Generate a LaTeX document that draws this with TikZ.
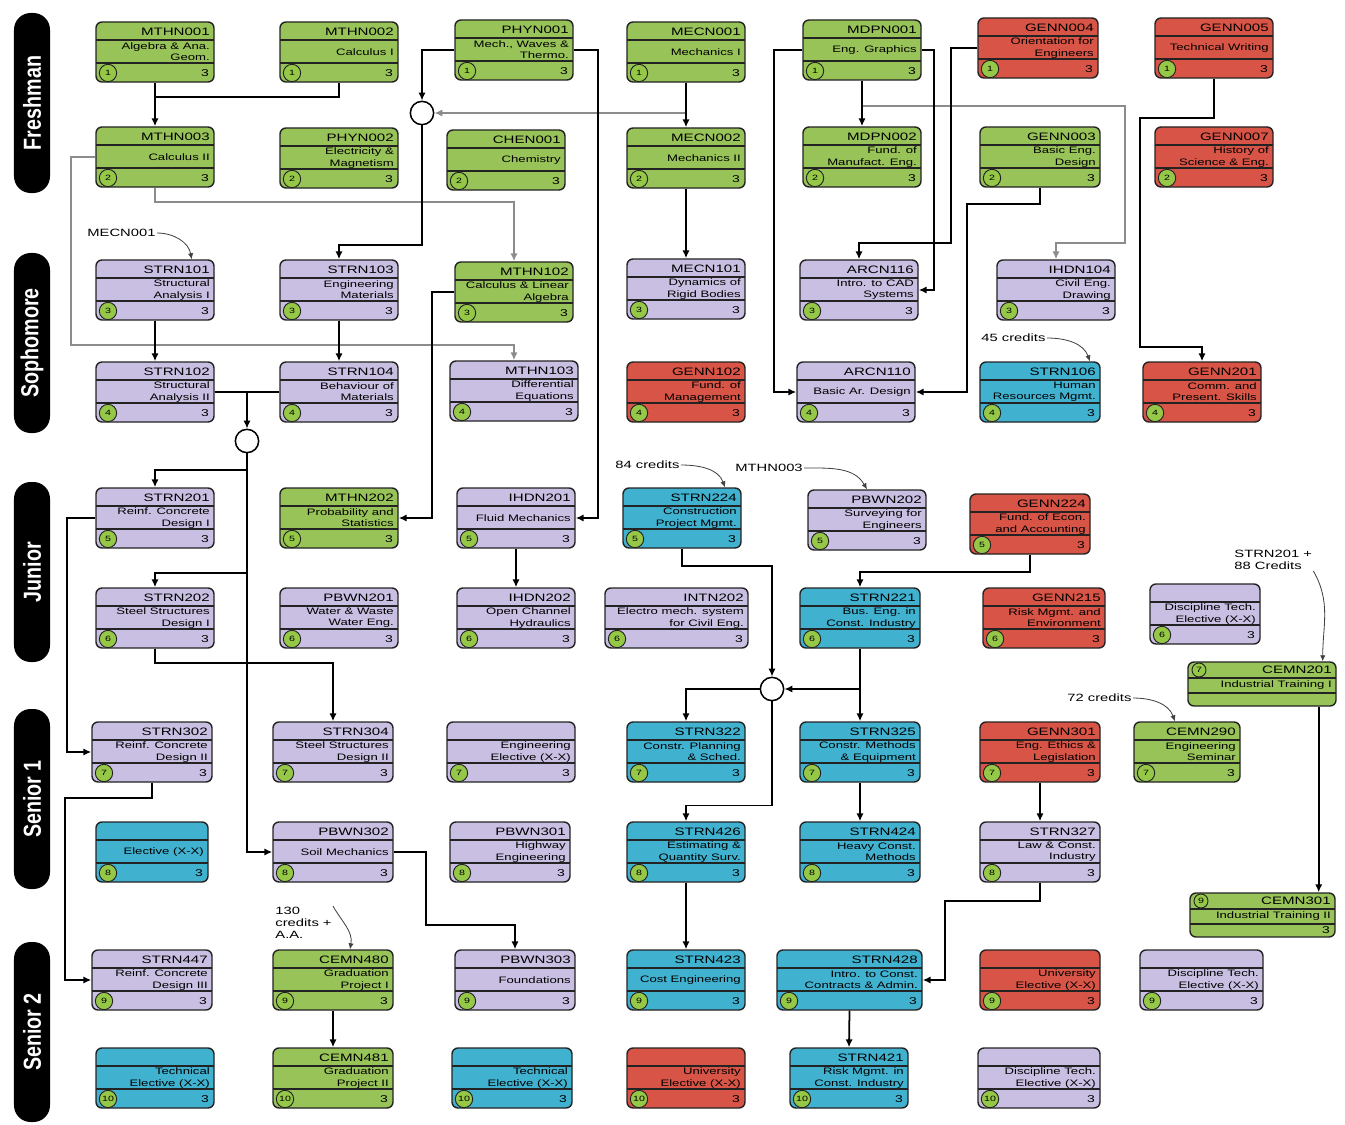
\documentclass[tikz,border=0pt]{standalone}
\usepackage{fontspec}
\usepackage{xcolor}
\usepackage{tikz}
\usetikzlibrary{arrows.meta}

\newfontfamily\boxfont{Liberation Sans}[FakeStretch=1.4]
\newfontfamily\yearfont{Liberation Sans}[FakeStretch=0.8]

\definecolor{cgreen}{RGB}{152,195,88}
\definecolor{cred}{RGB}{216,84,70}
\definecolor{cpurple}{RGB}{201,191,226}
\definecolor{ccyan}{RGB}{64,177,207}
\definecolor{csem}{RGB}{150,200,72}
\definecolor{cline}{RGB}{35,35,35}
\definecolor{cgray}{RGB}{140,140,140}

% name, left, top, width, fill, code, title, semester
\newcommand{\course}[8]{%
  \node[course, fill=#5, minimum width=#4*0.03cm] (#1) at (#2+#4/2,#3+30) {};
  \draw[divider] (#2,#3+18) -- ++(#4,0) (#2,#3+41) -- ++(#4,0);
  \node[codetxt, anchor=east] (#1c) at (#2+#4-4,#3+9.5) {#6};
  \node[titletxt, anchor=east] (#1t) at (#2+#4-4,#3+30) {#7};
  \node[semdot] (#1s) at (#2+12,#3+51) {#8};
  \node[credtxt, anchor=east] (#1n) at (#2+#4-5,#3+51) {3};
}
% name, left, top, width, code, title, credits, semester
\newcommand{\training}[8]{%
  \node[course, fill=cgreen, minimum width=#4*0.03cm, minimum height=1.32cm] (#1) at (#2+#4/2,#3+22) {};
  \draw[divider] (#2,#3+16) -- ++(#4,0) (#2,#3+31) -- ++(#4,0);
  \node[semdot, minimum size=0.42cm] (#1s) at (#2+11,#3+8) {#8};
  \node[codetxt, anchor=east] (#1c) at (#2+#4-4,#3+8) {#5};
  \node[titletxt, anchor=east] (#1t) at (#2+#4-4,#3+23.5) {#6};
  \node[credtxt, anchor=east] (#1n) at (#2+#4-5,#3+37.5) {#7};
}

\begin{document}
\begin{tikzpicture}[
  x=0.03cm, y=-0.03cm,
  course/.style={draw=cline, line width=1.2pt, rounded corners=0.18cm, minimum height=1.8cm, inner sep=0pt},
  divider/.style={draw=cline, line width=1.2pt},
  codetxt/.style={inner sep=0pt, font=\boxfont\fontsize{9.2}{10}\selectfont},
  titletxt/.style={inner sep=0pt, align=right, font=\boxfont\fontsize{8}{9.6}\selectfont},
  credtxt/.style={inner sep=0pt, font=\boxfont\fontsize{8.5}{9}\selectfont},
  semdot/.style={circle, draw=cline, fill=csem, line width=0.8pt, minimum size=0.52cm, inner sep=0pt, font=\boxfont\fontsize{6.5}{7}\selectfont},
  junction/.style={circle, draw=black, fill=white, line width=1.3pt, minimum size=0.7cm, inner sep=0pt},
  yearbar/.style={rotate=90, fill=black, rounded corners=0.5cm, minimum width=5.4cm, minimum height=1.08cm, inner sep=0pt, text=white, font=\yearfont\bfseries\fontsize{21}{21}\selectfont},
  notetxt/.style={inner sep=1pt, align=left, font=\boxfont\fontsize{9}{10}\selectfont},
  plainline/.style={draw=black, line width=1.5pt},
  arrow/.style={-{Latex[length=2.4mm, width=2.2mm]}, line width=1.5pt},
  garrow/.style={-{Latex[length=2.4mm, width=2.2mm]}, draw=cgray, line width=1.5pt},
  notearrow/.style={-{Latex[length=1.8mm, width=1.6mm]}, draw=black!75, line width=0.7pt}
]
\useasboundingbox (0,0) rectangle (1345,1125);

\node[yearbar] (fresh) at (32,103) {Freshman};
\node[yearbar] (soph) at (32,343) {Sophomore};
\node[yearbar] (jun) at (32,572) {Junior};
\node[yearbar] (sen1) at (32,799) {Senior 1};
\node[yearbar] (sen2) at (32,1032) {Senior 2};

\course{mthn001}{96}{22}{118}{cgreen}{MTHN001}{Algebra \& Ana.\\Geom.}{1}
\course{mthn002}{280}{22}{118}{cgreen}{MTHN002}{Calculus I}{1}
\course{phyn001}{455}{20}{118}{cgreen}{PHYN001}{Mech., Waves \&\\Thermo.}{1}
\course{mecn001}{627}{22}{118}{cgreen}{MECN001}{Mechanics I}{1}
\course{mdpn001}{803}{20}{118}{cgreen}{MDPN001}{Eng. Graphics}{1}
\course{genn004}{978}{18}{120}{cred}{GENN004}{Orientation for\\Engineers}{1}
\course{genn005}{1155}{18}{118}{cred}{GENN005}{Technical Writing}{1}

\course{mthn003}{96}{127}{118}{cgreen}{MTHN003}{Calculus II}{2}
\course{phyn002}{280}{128}{118}{cgreen}{PHYN002}{Electricity \&\\Magnetism}{2}
\course{chen001}{447}{130}{118}{cgreen}{CHEN001}{Chemistry}{2}
\course{mecn002}{627}{128}{118}{cgreen}{MECN002}{Mechanics II}{2}
\course{mdpn002}{803}{127}{118}{cgreen}{MDPN002}{Fund. of\\Manufact. Eng.}{2}
\course{genn003}{980}{127}{120}{cgreen}{GENN003}{Basic Eng.\\Design}{2}
\course{genn007}{1155}{127}{118}{cred}{GENN007}{History of\\Science \& Eng.}{2}

\course{strn101}{96}{260}{118}{cpurple}{STRN101}{Structural\\Analysis I}{3}
\course{strn103}{280}{260}{118}{cpurple}{STRN103}{Engineering\\Materials}{3}
\course{mthn102}{455}{262}{118}{cgreen}{MTHN102}{Calculus \& Linear\\Algebra}{3}
\course{mecn101}{627}{259}{118}{cpurple}{MECN101}{Dynamics of\\Rigid Bodies}{3}
\course{arcn116}{800}{260}{118}{cpurple}{ARCN116}{Intro. to CAD\\Systems}{3}
\course{ihdn104}{997}{260}{118}{cpurple}{IHDN104}{Civil Eng.\\Drawing}{3}

\course{strn102}{96}{362}{118}{cpurple}{STRN102}{Structural\\Analysis II}{4}
\course{strn104}{280}{362}{118}{cpurple}{STRN104}{Behaviour of\\Materials}{4}
\course{mthn103}{450}{361}{128}{cpurple}{MTHN103}{Differential\\Equations}{4}
\course{genn102}{627}{362}{118}{cred}{GENN102}{Fund. of\\Management}{4}
\course{arcn110}{797}{362}{118}{cpurple}{ARCN110}{Basic Ar. Design}{4}
\course{strn106}{980}{362}{120}{ccyan}{STRN106}{Human\\Resources Mgmt.}{4}
\course{genn201}{1143}{362}{118}{cred}{GENN201}{Comm. and\\Present. Skills}{4}

\course{strn201}{96}{488}{118}{cpurple}{STRN201}{Reinf. Concrete\\Design I}{5}
\course{mthn202}{280}{488}{118}{cgreen}{MTHN202}{Probability and\\Statistics}{5}
\course{ihdn201}{457}{488}{118}{cpurple}{IHDN201}{Fluid Mechanics}{5}
\course{strn224}{623}{488}{118}{ccyan}{STRN224}{Construction\\Project Mgmt.}{5}
\course{pbwn202}{808}{490}{118}{cpurple}{PBWN202}{Surveying for\\Engineers}{5}
\course{genn224}{970}{494}{120}{cred}{GENN224}{Fund. of Econ.\\and Accounting}{5}

\course{strn202}{96}{588}{118}{cpurple}{STRN202}{Steel Structures\\Design I}{6}
\course{pbwn201}{280}{588}{118}{cpurple}{PBWN201}{Water \& Waste\\Water Eng.}{6}
\course{ihdn202}{457}{588}{118}{cpurple}{IHDN202}{Open Channel\\Hydraulics}{6}
\course{intn202}{605}{588}{143}{cpurple}{INTN202}{Electro mech. system\\for Civil Eng.}{6}
\course{strn221}{800}{588}{120}{ccyan}{STRN221}{Bus. Eng. in\\Const. Industry}{6}
\course{genn215}{983}{588}{122}{cred}{GENN215}{Risk Mgmt. and\\Environment}{6}
\course{dte1}{1150}{584}{110}{cpurple}{}{Discipline Tech.\\Elective (X-X)}{6}

\training{cemn201}{1188}{662}{148}{CEMN201}{Industrial Training I}{}{7}

\course{strn302}{92}{722}{120}{cpurple}{STRN302}{Reinf. Concrete\\Design II}{7}
\course{strn304}{273}{722}{120}{cpurple}{STRN304}{Steel Structures\\Design II}{7}
\course{engel}{447}{722}{128}{cpurple}{}{Engineering\\Elective (X-X)}{7}
\course{strn322}{627}{722}{118}{ccyan}{STRN322}{Constr. Planning\\\& Sched.}{7}
\course{strn325}{800}{722}{120}{ccyan}{STRN325}{Constr. Methods\\\& Equipment}{7}
\course{genn301}{980}{722}{120}{cred}{GENN301}{Eng. Ethics \&\\Legislation}{7}
\course{cemn290}{1134}{722}{106}{cgreen}{CEMN290}{Engineering\\Seminar}{7}

\course{elec1}{96}{822}{112}{ccyan}{}{Elective (X-X)}{8}
\course{pbwn302}{273}{822}{120}{cpurple}{PBWN302}{Soil Mechanics}{8}
\course{pbwn301}{450}{822}{120}{cpurple}{PBWN301}{Highway\\Engineering}{8}
\course{strn426}{627}{822}{118}{ccyan}{STRN426}{Estimating \&\\Quantity Surv.}{8}
\course{strn424}{800}{822}{120}{ccyan}{STRN424}{Heavy Const.\\Methods}{8}
\course{strn327}{980}{822}{120}{cpurple}{STRN327}{Law \& Const.\\Industry}{8}

\training{cemn301}{1190}{893}{145}{CEMN301}{Industrial Training II}{3}{9}

\course{strn447}{92}{950}{120}{cpurple}{STRN447}{Reinf. Concrete\\Design III}{9}
\course{cemn480}{273}{950}{120}{cgreen}{CEMN480}{Graduation\\Project I}{9}
\course{pbwn303}{455}{950}{120}{cpurple}{PBWN303}{Foundations}{9}
\course{strn423}{627}{950}{118}{ccyan}{STRN423}{Cost Engineering}{9}
\course{strn428}{777}{950}{145}{ccyan}{STRN428}{Intro. to Const.\\Contracts \& Admin.}{9}
\course{unel1}{980}{950}{120}{cred}{}{University\\Elective (X-X)}{9}
\course{dte2}{1140}{950}{123}{cpurple}{}{Discipline Tech.\\Elective (X-X)}{9}

\course{tech1}{96}{1048}{118}{ccyan}{}{Technical\\Elective (X-X)}{10}
\course{cemn481}{273}{1048}{120}{cgreen}{CEMN481}{Graduation\\Project II}{10}
\course{tech2}{452}{1048}{120}{ccyan}{}{Technical\\Elective (X-X)}{10}
\course{unel2}{627}{1048}{118}{cred}{}{University\\Elective (X-X)}{10}
\course{strn421}{790}{1048}{118}{ccyan}{STRN421}{Risk Mgmt. in\\Const. Industry}{10}
\course{dte3}{978}{1048}{122}{cpurple}{}{Discipline Tech.\\Elective (X-X)}{10}

\node[junction] (and1) at (422,113) {};
\node[junction] (and2) at (247,441) {};
\node[junction] (and3) at (772,689) {};

\coordinate (j1) at (155,97);
\coordinate (j2) at (380,245);
\coordinate (j3) at (300,202);
\coordinate (j4) at (300,345);
\coordinate (j5) at (200,470);
\coordinate (j6) at (200,573);
\coordinate (j7) at (250,663);
\coordinate (j8) at (65,900);
\coordinate (j9) at (1125,106);
\coordinate (j10) at (1056,243);
\coordinate (j11) at (859,243);
\coordinate (j12) at (967,300);
\coordinate (j13) at (1140,200);
\coordinate (j14) at (1202,347);

\draw[garrow] (mecn001.south) |- (and1.east);
\draw[garrow] (mthn003.south) |- (j3) -| (mthn102.north);
\draw[garrow] (mthn003.west) -- ++(-24,0) |- (j4) -| (mthn103.north);
\draw[garrow] (mdpn001.south) |- (j9) |- (j10) -- (ihdn104.north);

\draw[arrow] (mthn001.south) -- (mthn003.north);
\draw[plainline] (mthn002.south) |- (j1);
\draw[arrow] (mecn001.south) -- (mecn002.north);
\draw[arrow] (phyn001.west) -| (and1.north);
\draw[arrow] (and1.south) |- (j2) -| (strn103.north);
\draw[arrow] (strn101.south) -- (strn102.north);
\draw[arrow] (strn103.south) -- (strn104.north);
\draw[plainline] (strn102.east) -- (strn104.west);
\draw[arrow] (strn102.east -| and2) -- (and2.north);
\draw[arrow] (and2.south) |- (j5) -| (strn201.north);
\draw[arrow] (and2.south) |- (j6) -| (strn202.north);
\draw[arrow] (and2.south) |- (pbwn302.west);
\draw[arrow] (strn202.south) |- (j7) -| (strn304.north);
\draw[arrow] (strn201.west) -- ++(-28,0) |- (strn302.west);
\draw[arrow] (strn302.south) -- ++(0,15) -| (j8) |- (strn447.west);
\draw[arrow] (mthn102.west) -- ++(-22,0) |- (mthn202.east);
\draw[arrow] (phyn001.east) -- ++(24,0) |- (ihdn201.east);
\draw[arrow] (ihdn201.south) -- (ihdn202.north);
\draw[arrow] (mecn002.south) -- (mecn101.north);
\draw[arrow] (mdpn001.south) -- (mdpn002.north);
\draw[arrow] (mdpn001.west) -- ++(-28,0) |- (arcn110.west);
\draw[arrow] (mdpn001.east) -- ++(12,0) |- (arcn116.east);
\draw[arrow] (genn004.west) -- ++(-26,0) |- (j11) -- (arcn116.north);
\draw[arrow] (genn003.south) -- ++(0,16) -| (j12) |- (arcn110.east);
\draw[arrow] (genn005.south) -- ++(0,39) -| (j13) |- (j14) -- (genn201.north);
\draw[arrow] (strn224.south) -- ++(0,17) -| (and3.north);
\draw[arrow] (genn224.south) -- ++(0,17) -| (strn221.north);
\draw[arrow] (strn221.south) -- (strn325.north);
\draw[arrow] (strn221.south |- and3) -- (and3.east);
\draw[arrow] (and3.west) -| (strn322.north);
\draw[arrow] (and3.south) -- ++(0,104) -| (strn426.north);
\draw[arrow] (strn325.south) -- (strn424.north);
\draw[arrow] (genn301.south) -- (strn327.north);
\draw[arrow] (strn327.south) -- ++(0,18) -- ++(-95,0) |- (strn428.east);
\draw[arrow] (strn426.south) -- (strn423.north);
\draw[arrow] (strn428.south) -- (strn421.north);
\draw[arrow] (pbwn302.east) -- ++(32,0) -- ++(0,73) -| (pbwn303.north);
\draw[arrow] (cemn480.south) -- (cemn481.north);
\draw[arrow] ([xshift=-0.54cm]cemn201.south east) -- ([xshift=-0.51cm]cemn301.north east);

\node[notetxt, anchor=west] (n1) at (86,233) {MECN001};
\node[notetxt, anchor=west] (n2) at (980,338) {45 credits};
\node[notetxt, anchor=west] (n3) at (614,465) {84 credits};
\node[notetxt, anchor=west] (n4) at (734,468) {MTHN003};
\node[notetxt, anchor=west] (n5) at (1233,560) {STRN201 +\\88 Credits};
\node[notetxt, anchor=west] (n6) at (1066,698) {72 credits};
\node[notetxt, anchor=west] (n7) at (274,923) {130\\credits +\\A.A.};

\draw[notearrow] (n1.east) to[out=0, in=100] ([xshift=1.1cm]strn101.north);
\draw[notearrow] (n2.east) to[out=0, in=110] ([xshift=1.5cm]strn106.north);
\draw[notearrow] (n3.east) to[out=0, in=110] ([xshift=1.29cm]strn224.north);
\draw[notearrow] (n4.east) to[out=0, in=120] (pbwn202.north);
\draw[notearrow] (n5.south east) to[out=-60, in=90] ([xshift=-0.42cm]cemn201.north east);
\draw[notearrow] (n6.east) to[out=0, in=110] ([xshift=-0.36cm]cemn290.north);
\draw[notearrow] (n7.north east) to[out=-60, in=80] ([xshift=0.51cm]cemn480.north);
\end{tikzpicture}
\end{document}
